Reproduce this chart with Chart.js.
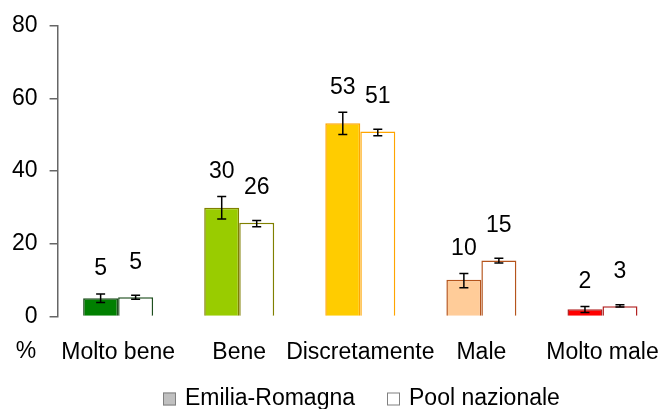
<!DOCTYPE html>
<html><head><meta charset="utf-8">
<script src="https://cdn.jsdelivr.net/npm/chart.js@4"></script>
<style>html,body{margin:0;padding:0;background:#fff;overflow:hidden}#wrap{width:663px;height:409px;position:relative}</style>
</head><body><div id="wrap"><canvas id="c"></canvas></div>
<script>
const categories = ['Molto bene', 'Bene', 'Discretamente', 'Male', 'Molto male'];
const seriesNames = ['Emilia-Romagna', 'Pool nazionale'];
const erValues = [5.0, 29.9, 53.2, 10.1, 2.0];
const pnValues = [5.3, 25.8, 50.9, 15.4, 2.8];
const erLow = [3.8, 26.8, 50.1, 7.9, 1.1];
const erHigh = [6.2, 33.0, 56.2, 11.8, 2.75];
const pnLow = [4.7, 24.7, 49.7, 14.7, 2.6];
const pnHigh = [5.8, 26.4, 51.5, 16.0, 3.2];
const erLabels = ['5', '30', '53', '10', '2'];
const pnLabels = ['5', '26', '51', '15', '3'];
const yTicks = [0, 20, 40, 60, 80];

const erFill = ['#008000', '#99CC00', '#FFCC00', '#FFCC99', '#FF0000'];
const borderCols = ['#1E4E1E', '#808000', '#FFA500', '#B5541C', '#B22222'];
const FONT = "'Liberation Sans', Arial, sans-serif";
const FS = 23;

const errors = [[erLow, erHigh], [pnLow, pnHigh]];
const valueLabels = [erLabels, pnLabels];
const labelOffsets = [25, 33];

const extrasPlugin = {
  id: 'extras',
  afterDatasetsDraw(chart) {
    const ctx = chart.ctx;
    const y = chart.scales.y;
    ctx.save();
    chart.data.datasets.forEach((ds, di) => {
      const meta = chart.getDatasetMeta(di);
      meta.data.forEach((bar, i) => {
        const lo = y.getPixelForValue(errors[di][0][i]);
        const hi = y.getPixelForValue(errors[di][1][i]);
        ctx.strokeStyle = '#000';
        ctx.lineWidth = 1.5;
        ctx.beginPath();
        ctx.moveTo(bar.x, lo); ctx.lineTo(bar.x, hi);
        ctx.moveTo(bar.x - 4.5, lo); ctx.lineTo(bar.x + 4.5, lo);
        ctx.moveTo(bar.x - 4.5, hi); ctx.lineTo(bar.x + 4.5, hi);
        ctx.stroke();
        ctx.fillStyle = '#000';
        ctx.font = FS + 'px ' + FONT;
        ctx.textAlign = 'center';
        ctx.textBaseline = 'middle';
        ctx.fillText(valueLabels[di][i], bar.x, hi - labelOffsets[di]);
      });
    });
    ctx.restore();
  },
  afterDraw(chart) {
    const ctx = chart.ctx;
    const area = chart.chartArea;
    ctx.save();
    ctx.fillStyle = '#000';
    ctx.font = FS + 'px ' + FONT;
    ctx.textAlign = 'center';
    ctx.textBaseline = 'middle';
    ctx.fillText('%', 26, area.bottom + 35);
    // legend
    const boxFill = ['#C0C0C0', '#FFFFFF'];
    const boxStroke = ['#808080', '#808080'];
    let x = 163;
    const cy = chart.height - 10;
    ctx.textAlign = 'left';
    seriesNames.forEach((name, i) => {
      ctx.fillStyle = boxFill[i];
      ctx.fillRect(x, cy - 6.5, 13, 13);
      ctx.strokeStyle = boxStroke[i];
      ctx.lineWidth = 1;
      ctx.strokeRect(x + 0.5, cy - 6, 12, 12);
      ctx.fillStyle = '#000';
      ctx.fillText(name, x + 22, cy);
      x += 22 + ctx.measureText(name).width + 32;
    });
    ctx.restore();
  }
};

new Chart(document.getElementById('c'), {
  type: 'bar',
  data: {
    labels: categories,
    datasets: [
      { label: seriesNames[0], data: erValues, backgroundColor: erFill, borderColor: borderCols, borderWidth: 1.5 },
      { label: seriesNames[1], data: pnValues, backgroundColor: '#FFFFFF', borderColor: borderCols, borderWidth: 1.5 }
    ]
  },
  options: {
    responsive: true,
    maintainAspectRatio: false,
    animation: false,
    devicePixelRatio: 1,
    layout: { padding: { left: 0, top: 25, right: 0, bottom: 43 } },
    datasets: { bar: { categoryPercentage: 0.578, barPercentage: 1 } },
    plugins: { legend: { display: false }, tooltip: { enabled: false } },
    scales: {
      x: {
        offset: true,
        grid: { display: false, drawTicks: true, tickLength: 22 },
        border: { display: false },
        ticks: { color: '#000', font: { size: FS, family: FONT }, padding: 0, maxRotation: 0, autoSkip: false }
      },
      y: {
        min: 0, max: 80,
        afterBuildTicks(scale) { scale.ticks = yTicks.map(v => ({ value: v })); },
        grid: { drawOnChartArea: false, drawTicks: true, tickLength: 8, color: '#666', lineWidth: 1.5 },
        border: { display: true, color: '#666', width: 1.5 },
        ticks: { color: '#000', font: { size: FS, family: FONT }, padding: 12 }
      }
    }
  },
  plugins: [extrasPlugin]
});
</script>
</body></html>
